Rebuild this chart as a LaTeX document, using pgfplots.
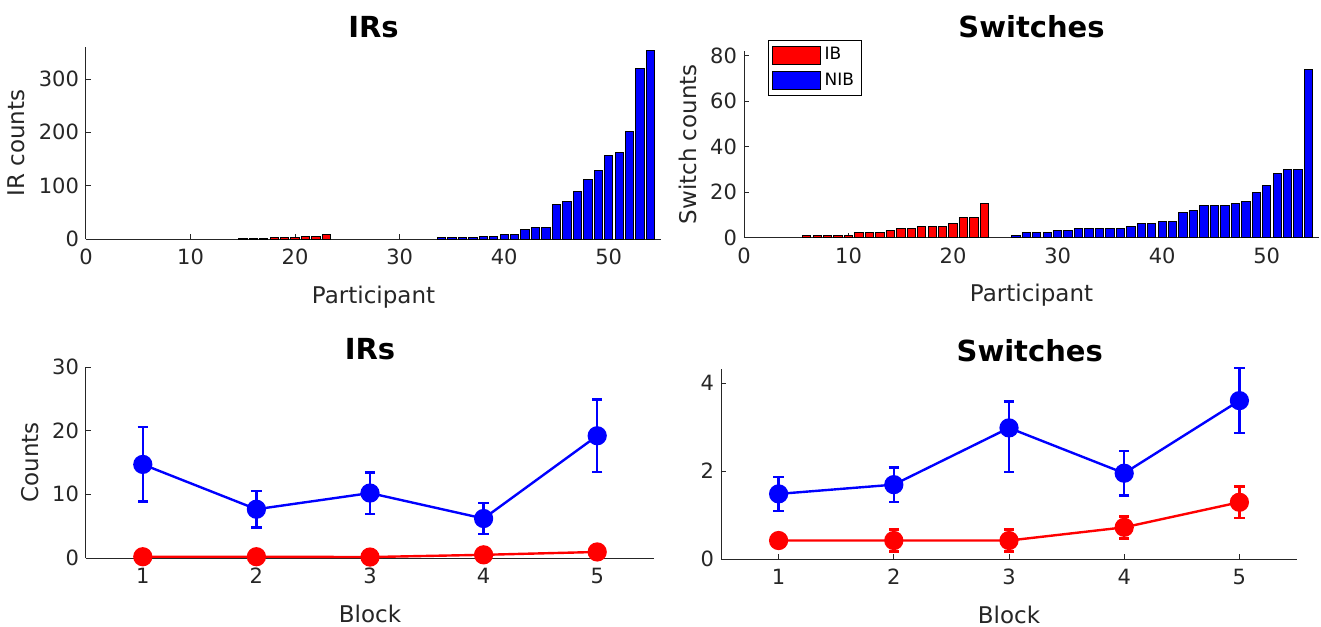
\documentclass[border=0pt]{standalone}
\usepackage{fontspec}
\setmainfont{DejaVu Sans}
\usepackage{pgfplots}
\pgfplotsset{compat=1.18}

\pgfplotsset{
  myax/.style={
    scale only axis,
    axis lines=left,
    axis line style={-, draw=black!85, line width=0.5pt},
    tick align=inside,
    major tick length=2.5pt,
    tick style={draw=black!85, line width=0.5pt},
    tick label style={font=\fontsize{10.5}{12}\selectfont, text=black!85},
    xticklabel style={yshift=-1.5pt},
    label style={font=\fontsize{11.5}{13}\selectfont, text=black!85},
    xlabel style={yshift=-3.5pt},
    title style={font=\bfseries\fontsize{14.5}{16}\selectfont},
    /pgf/number format/assume math mode=true,
    anchor=south west,
    clip=false,
  },
  mybar/.style={ybar, bar width=0.8, bar shift=0pt, draw=black, line width=0.5pt,
    legend image code/.code={\draw[##1, ybar=0pt] (0pt,-4.5pt) rectangle (24pt,4.5pt);}},
  myline/.style={color=#1, line width=1.2pt, mark=*, mark size=4.2pt, mark options={solid, fill=#1},
    error bars/.cd, y dir=both, y explicit,
    error bar style={line width=1.2pt, color=#1},
    error mark options={rotate=90, mark size=2.6pt, line width=1.2pt, color=#1}},
}

\begin{document}
\begin{tikzpicture}
\useasboundingbox (0,0) rectangle (660.5pt,-313pt);

% Top-left: IRs by participant
\begin{axis}[myax, at={(43pt,-119.5pt)}, width=287.5pt, height=96pt,
  xmin=0, xmax=55, ymin=0, ymax=360,
  xtick={0,10,20,30,40,50}, ytick={0,100,200,300},
  xlabel={Participant}, ylabel={IR counts}, title={IRs}, title style={yshift=-5pt}]
\addplot[mybar, fill=red] coordinates {(15,1)(16,1)(17,1)(18,2)(19,2)(20,2)(21,4)(22,4)(23,8)};
\addplot[mybar, fill=blue] coordinates {(34,2)(35,2)(36,2)(37,2)(38,4)(39,4)(40,8)(41,8)(42,17)(43,22)(44,22)(45,65)(46,70)(47,90)(48,112)(49,129)(50,157)(51,162)(52,202)(53,319)(54,353)};
\end{axis}

% Top-right: Switches by participant
\begin{axis}[myax, at={(372pt,-118.75pt)}, width=287.5pt, height=93.25pt,
  xmin=0, xmax=55, ymin=0, ymax=82,
  xtick={0,10,20,30,40,50}, ytick={0,20,40,60,80},
  xlabel={Participant}, ylabel={Switch counts},
  title={Switches}, title style={yshift=-3pt},
  legend style={at={(0.042,1.059)}, anchor=north west, font=\fontsize{8.5}{9.5}\selectfont,
    draw=black, line width=0.5pt, inner sep=1.5pt, row sep=1pt, cells={anchor=west}}]
\addplot[mybar, fill=red] coordinates {(6,1)(7,1)(8,1)(9,1)(10,1)(11,2)(12,2)(13,2)(14,3)(15,4)(16,4)(17,5)(18,5)(19,5)(20,6)(21,9)(22,9)(23,15)};
\addlegendentry{IB}
\addplot[mybar, fill=blue] coordinates {(26,1)(27,2)(28,2)(29,2)(30,3)(31,3)(32,4)(33,4)(34,4)(35,4)(36,4)(37,5)(38,6)(39,6)(40,7)(41,7)(42,11)(43,12)(44,14)(45,14)(46,14)(47,15)(48,16)(49,20)(50,23)(51,28)(52,30)(53,30)(54,74)};
\addlegendentry{NIB}
\end{axis}

% Bottom-left: IRs by block
\begin{axis}[myax, at={(43pt,-279pt)}, width=284pt, height=95.5pt,
  xmin=0.5, xmax=5.5, ymin=0, ymax=30,
  xtick={1,2,3,4,5}, ytick={0,10,20,30},
  xlabel={Block}, ylabel={Counts}, title={IRs}, title style={yshift=-6pt}]
\addplot[myline=blue] coordinates {(1,14.7) +- (0,5.85) (2,7.66) +- (0,2.85) (3,10.2) +- (0,3.25) (4,6.2) +- (0,2.4) (5,19.2) +- (0,5.7)};
\addplot[myline=red] coordinates {(1,0.2) +- (0,0.15) (2,0.2) +- (0,0.15) (3,0.15) +- (0,0.1) (4,0.5) +- (0,0.3) (5,0.95) +- (0,0.4)};
\end{axis}

% Bottom-right: Switches by block
\begin{axis}[myax, at={(360.5pt,-279.5pt)}, width=288pt, height=95.25pt,
  xmin=0.5, xmax=5.5, ymin=0, ymax=4.33,
  xtick={1,2,3,4,5}, ytick={0,2,4},
  xlabel={Block}, title={Switches}, title style={at={(0.536,1)}, yshift=-6pt}]
\addplot[myline=blue] coordinates {(1,1.48) +- (0,0.39) (2,1.69) +- (0,0.39) (3,2.98) += (0,0.6) -= (0,1.0) (4,1.95) +- (0,0.51) (5,3.6) +- (0,0.74)};
\addplot[myline=red] coordinates {(1,0.42) +- (0,0.15) (2,0.42) +- (0,0.25) (3,0.42) +- (0,0.25) (4,0.72) +- (0,0.25) (5,1.29) +- (0,0.36)};
\end{axis}
\end{tikzpicture}
\end{document}
